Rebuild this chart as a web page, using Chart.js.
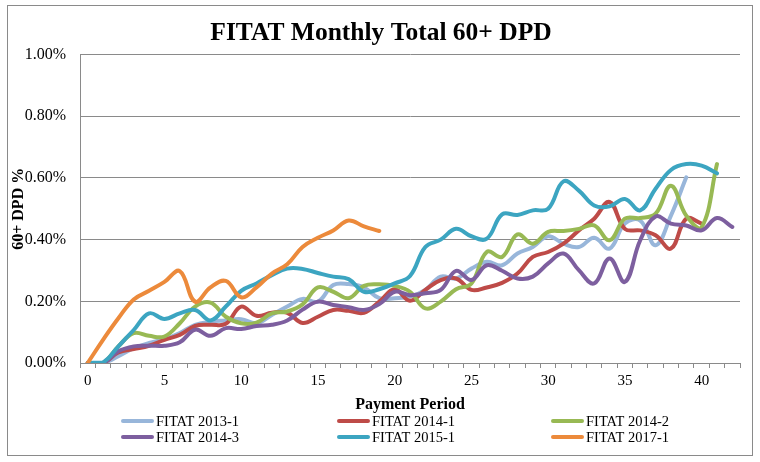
<!DOCTYPE html>
<html>
<head>
<meta charset="utf-8">
<script src="https://cdn.jsdelivr.net/npm/chart.js@4.4.1/dist/chart.umd.min.js"></script>
<style>
html,body{margin:0;padding:0;background:#fff;}
#wrap{width:760px;height:462px;position:relative;}
</style>
</head>
<body>
<div id="wrap"><canvas id="c" width="760" height="462"></canvas></div>
<script>
// ---- data (values in %) ----
const periods = ['0','1','2','3','4','5','6','7','8','9','10','11','12','13','14','15','16','17','18','19','20','21','22','23','24','25','26','27','28','29','30','31','32','33','34','35','36','37','38','39','40','41','42'];
const seriesNames = ['FITAT 2013-1','FITAT 2014-1','FITAT 2014-2','FITAT 2014-3','FITAT 2015-1','FITAT 2017-1'];
const fitat2013_1 = [0,0,0.022,0.048,0.065,0.077,0.097,0.124,0.134,0.138,0.142,0.129,0.156,0.183,0.208,0.199,0.253,0.256,0.245,0.210,0.210,0.215,0.237,0.280,0.274,0.306,0.328,0.317,0.355,0.376,0.411,0.387,0.376,0.406,0.371,0.452,0.462,0.382,0.478,0.602];
const fitat2014_1 = [0,0,0.034,0.045,0.056,0.075,0.091,0.120,0.124,0.127,0.183,0.153,0.163,0.163,0.130,0.150,0.172,0.169,0.163,0.199,0.239,0.202,0.237,0.269,0.274,0.237,0.245,0.260,0.290,0.344,0.360,0.387,0.430,0.468,0.522,0.435,0.430,0.414,0.371,0.468,0.452];
const fitat2014_2 = [0,0,0.054,0.097,0.088,0.086,0.129,0.183,0.196,0.150,0.129,0.131,0.161,0.167,0.190,0.245,0.231,0.210,0.250,0.255,0.250,0.231,0.177,0.199,0.239,0.258,0.360,0.344,0.417,0.387,0.425,0.428,0.435,0.446,0.398,0.468,0.470,0.484,0.575,0.478,0.440,0.645];
const fitat2014_3 = [0,0,0.038,0.054,0.056,0.056,0.067,0.108,0.088,0.113,0.110,0.120,0.124,0.138,0.173,0.199,0.188,0.181,0.172,0.191,0.231,0.220,0.226,0.237,0.299,0.269,0.317,0.299,0.274,0.280,0.323,0.355,0.301,0.258,0.339,0.263,0.398,0.475,0.452,0.446,0.430,0.470,0.441];
const fitat2015_1 = [0,0.002,0.054,0.107,0.161,0.143,0.161,0.172,0.138,0.183,0.234,0.258,0.285,0.306,0.305,0.292,0.280,0.272,0.231,0.239,0.258,0.282,0.376,0.400,0.435,0.411,0.403,0.482,0.480,0.495,0.500,0.589,0.559,0.511,0.508,0.532,0.495,0.565,0.626,0.645,0.640,0.615];
const fitat2017_1 = [0,0.075,0.145,0.206,0.234,0.263,0.298,0.199,0.245,0.266,0.213,0.245,0.290,0.320,0.376,0.406,0.430,0.462,0.443,0.428];
const seriesValues = [fitat2013_1, fitat2014_1, fitat2014_2, fitat2014_3, fitat2015_1, fitat2017_1];
const seriesColors = ['#98B6DA','#BE4B48','#98B954','#7D5F9F','#3CA5C1','#EC8A3B'];
const yTicks = [0, 0.2, 0.4, 0.6, 0.8, 1.0];

const SERIF = "'Liberation Serif','Times New Roman',serif";

const datasets = seriesValues.map((vals, i) => ({
  label: seriesNames[i],
  data: vals,
  borderColor: seriesColors[i],
  backgroundColor: seriesColors[i],
  borderWidth: 4,
  pointRadius: 0,
  pointHoverRadius: 0,
  tension: 0.4,
  borderCapStyle: 'round',
  borderJoinStyle: 'round',
  fill: false,
  order: seriesValues.length - i
}));

const frameAndLegend = {
  id: 'frameAndLegend',
  beforeDraw(chart) {
    const ctx = chart.ctx;
    ctx.save();
    ctx.fillStyle = '#ffffff';
    ctx.fillRect(0, 0, chart.width, chart.height);
    ctx.restore();
  },
  afterDraw(chart) {
    const ctx = chart.ctx;
    ctx.save();
    ctx.strokeStyle = '#8a8a8a';
    ctx.lineWidth = 1;
    ctx.strokeRect(7.5, 5.5, 745, 450);
    const colX = [121, 337, 551];
    const rowY = [421, 437];
    ctx.font = '14.5px ' + SERIF;
    ctx.textBaseline = 'middle';
    ctx.textAlign = 'left';
    chart.data.datasets.forEach((ds, i) => {
      const x = colX[i % 3], y = rowY[Math.floor(i / 3)];
      ctx.strokeStyle = ds.borderColor;
      ctx.lineWidth = 4;
      ctx.lineCap = 'round';
      ctx.beginPath();
      ctx.moveTo(x + 2, y);
      ctx.lineTo(x + 31, y);
      ctx.stroke();
      ctx.fillStyle = '#000';
      ctx.fillText(ds.label, x + 35, y + 1);
    });
    ctx.restore();
  }
};

new Chart(document.getElementById('c'), {
  type: 'line',
  data: { labels: periods, datasets: datasets },
  plugins: [frameAndLegend],
  options: {
    responsive: false,
    devicePixelRatio: 1,
    animation: false,
    events: [],
    layout: { padding: { top: 5, left: 22, right: 20, bottom: 47 } },
    plugins: {
      legend: { display: false },
      tooltip: { enabled: false },
      title: {
        display: true,
        text: 'FITAT Monthly Total 60+ DPD',
        color: '#000',
        font: { family: SERIF, size: 25.5, weight: 'bold' },
        padding: { top: 13, bottom: 6 }
      }
    },
    scales: {
      x: {
        type: 'category',
        offset: true,
        afterFit(scale) { scale.height = 52; },
        grid: { display: true, drawOnChartArea: false, drawTicks: true, tickLength: 5, offset: true, color: '#8a8a8a' },
        border: { display: true, color: '#8a8a8a', width: 1 },
        ticks: {
          autoSkip: false,
          maxRotation: 0,
          minRotation: 0,
          padding: 4,
          color: '#000',
          font: { family: SERIF, size: 15 },
          callback: function(value, index) { return index % 5 === 0 ? periods[index] : ''; }
        },
        title: {
          display: true,
          text: 'Payment Period',
          color: '#000',
          font: { family: SERIF, size: 16, weight: 'bold' },
          padding: { top: 4, bottom: 1 }
        }
      },
      y: {
        min: 0,
        max: 1.0,
        afterFit(scale) { scale.width = 58; },
        afterBuildTicks(scale) { scale.ticks = yTicks.map(v => ({ value: v })); },
        grid: { color: '#8a8a8a', drawTicks: false, lineWidth: 1 },
        border: { display: true, color: '#8a8a8a', width: 1 },
        ticks: {
          padding: 14,
          color: '#000',
          font: { family: SERIF, size: 16 },
          callback: function(v) { return v.toFixed(2) + '%'; }
        },
        title: {
          display: true,
          text: '60+ DPD %',
          color: '#000',
          font: { family: SERIF, size: 16, weight: 'bold' },
          padding: { top: -13, bottom: 0 }
        }
      }
    }
  }
});
</script>
</body>
</html>
